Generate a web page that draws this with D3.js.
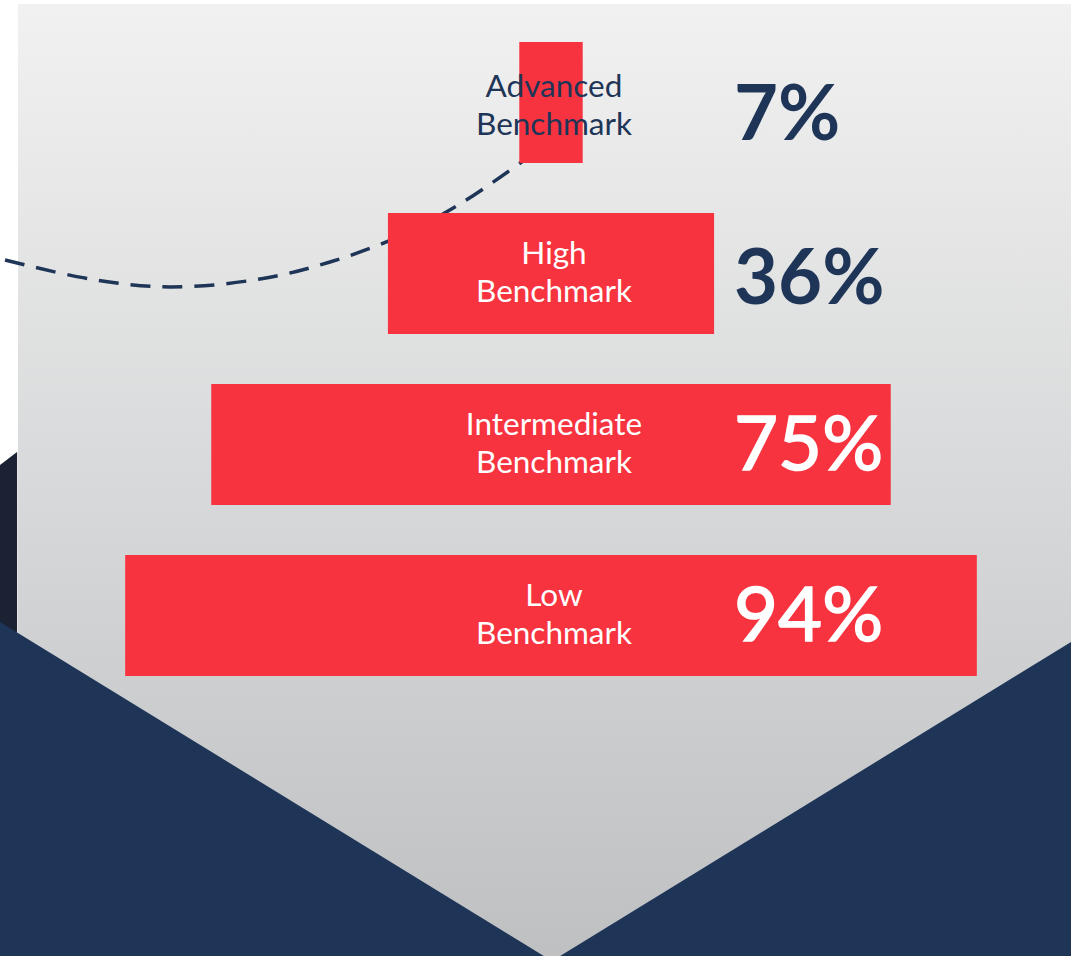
<!DOCTYPE html>
<html><head><meta charset="utf-8">
<script src="https://cdn.jsdelivr.net/npm/d3@7"></script>
<style>html,body{margin:0;padding:0;background:#fff;}svg{display:block;}</style>
</head><body>
<script>
const categories = ["Advanced", "High", "Intermediate", "Low"];
const values = [7, 36, 75, 94];
const labelSuffix = "Benchmark";
const curvePoints = [[5,260],[90,279],[170,287],[260,279],[330,262],[400,236],[460,204],[523,161]];

const W = 1071, H = 956;
const svg = d3.select("body").append("svg").attr("width", W).attr("height", H);
const defs = svg.append("defs");
const grad = defs.append("linearGradient").attr("id","bg").attr("x1",0).attr("y1",0).attr("x2",0).attr("y2",1);
grad.append("stop").attr("offset","0%").attr("stop-color","#f1f1f1");
grad.append("stop").attr("offset","50%").attr("stop-color","#d8d9da");
grad.append("stop").attr("offset","100%").attr("stop-color","#bfc0c2");

svg.append("polygon").attr("points","0,465 17,452 17,640 0,630").attr("fill","#1b2233");
svg.append("rect").attr("x",18).attr("y",4).attr("width",W-18).attr("height",H-4).attr("fill","url(#bg)");
svg.append("line").attr("x1",17.5).attr("x2",17.5).attr("y1",452).attr("y2",640).attr("stroke","#e4e4e4").attr("stroke-width",1);
svg.append("polygon").attr("points",`0,622 552,961 0,961`).attr("fill","#1e3557");
svg.append("polygon").attr("points",`${W},642 552,961 ${W},961`).attr("fill","#1e3557");

svg.append("path")
  .attr("d", d3.line().curve(d3.curveCatmullRom.alpha(0.5))(curvePoints))
  .attr("fill","none").attr("stroke","#1e3557").attr("stroke-width",3.5)
  .attr("stroke-dasharray","20 12").attr("stroke-linecap","butt");

const cx = 551;
const x = d3.scaleLinear().domain([0,100]).range([0,906]);
const y = d3.scaleBand().domain(categories).range([42,676]).paddingInner(50/171).paddingOuter(0);

svg.append("g").selectAll("rect.bar").data(categories).join("rect").attr("class","bar")
  .attr("x",(d,i)=>cx - x(values[i])/2)
  .attr("y",d=>y(d))
  .attr("width",(d,i)=>x(values[i]))
  .attr("height",y.bandwidth())
  .attr("fill","#f7333f");

const font = "Lato, 'Open Sans', sans-serif";
categories.forEach((c,i)=>{
  const mid = y(c) + y.bandwidth()/2;
  const inside = x(values[i]) > 200;
  const col = inside ? "#ffffff" : "#1e3557";
  const t = svg.append("text").attr("text-anchor","middle").attr("font-family",font)
    .attr("font-size",31.5).attr("fill",col);
  t.append("tspan").attr("x",554).attr("y",mid-(i===0?6:10)).text(c);
  t.append("tspan").attr("x",554).attr("y",mid+(i===0?32:28)).text(labelSuffix);
  const dark = x(values[i]) <= 400;
  const pt = svg.append("text").attr("x",734).attr("y",mid + (i===0?37:i===1?30:25))
    .attr("font-family",font).attr("font-size",76)
    .attr("font-weight",dark?700:400)
    .attr("fill",dark?"#1e3557":"#ffffff").text(values[i] + "%");
  if (!dark) pt.attr("stroke","#ffffff").attr("stroke-width",1.6);
});
</script>
</body></html>
